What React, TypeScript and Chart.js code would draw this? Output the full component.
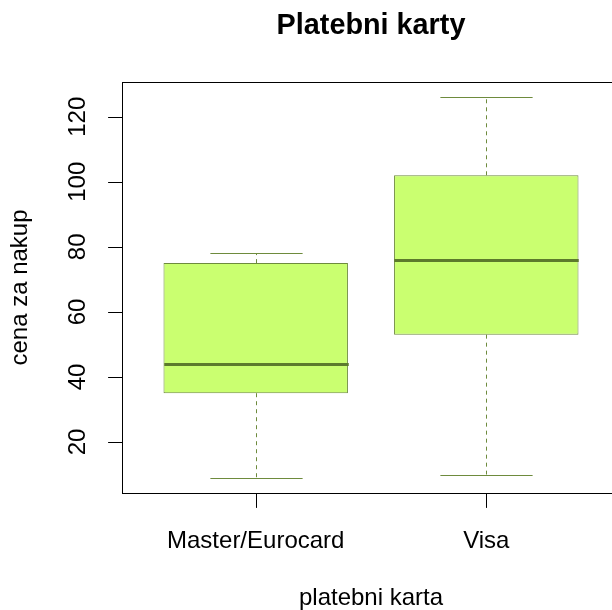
import React, { useEffect, useRef } from "react";
import { Chart, registerables } from "chart.js";

Chart.register(...registerables);

const categories = ["Master/Eurocard", "Visa"];
const positions = [1, 2];
const whiskerLow = [9, 10];
const q1 = [35, 53];
const median = [44, 76];
const q3 = [75, 102];
const whiskerHigh = [78, 126];
const yTicks = [20, 40, 60, 80, 100, 120];

const title = "Platebni karty";
const xTitle = "platebni karta";
const yTitle = "cena za nakup";

const FILL = "#CAFF70";
const BORDER = "#6E8B3D";
const MEDIAN = "#5C7A2C";
const FONT = "'Liberation Sans', Arial, Helvetica, sans-serif";

const W = 620;
const H = 610;

export default function App() {
  const ref = useRef<HTMLCanvasElement | null>(null);

  useEffect(() => {
    if (!ref.current) return;
    const boxPlugin = {
      id: "boxExtras",
      afterDatasetsDraw(chart: any) {
        const ctx = chart.ctx;
        const xs = chart.scales.x;
        const ys = chart.scales.y;
        const unit = xs.getPixelForValue(2) - xs.getPixelForValue(1);
        const boxHalf = unit * 0.4;
        const capHalf = boxHalf / 2;
        ctx.save();
        for (let i = 0; i < categories.length; i++) {
          const cx = Math.round(xs.getPixelForValue(positions[i])) + 0.5;
          ctx.strokeStyle = BORDER;
          ctx.lineWidth = 1;
          ctx.setLineDash([4, 4]);
          ctx.beginPath();
          ctx.moveTo(cx, ys.getPixelForValue(q3[i]));
          ctx.lineTo(cx, ys.getPixelForValue(whiskerHigh[i]));
          ctx.moveTo(cx, ys.getPixelForValue(q1[i]));
          ctx.lineTo(cx, ys.getPixelForValue(whiskerLow[i]));
          ctx.stroke();
          ctx.setLineDash([]);
          ctx.beginPath();
          const yh = Math.round(ys.getPixelForValue(whiskerHigh[i])) + 0.5;
          const yl = Math.round(ys.getPixelForValue(whiskerLow[i])) + 0.5;
          ctx.moveTo(cx - capHalf, yh);
          ctx.lineTo(cx + capHalf, yh);
          ctx.moveTo(cx - capHalf, yl);
          ctx.lineTo(cx + capHalf, yl);
          ctx.stroke();
          ctx.strokeStyle = MEDIAN;
          ctx.lineWidth = 3;
          ctx.lineCap = "butt";
          const ym = Math.round(ys.getPixelForValue(median[i])) + 0.5;
          ctx.beginPath();
          ctx.moveTo(cx - boxHalf, ym);
          ctx.lineTo(cx + boxHalf, ym);
          ctx.stroke();
        }
        ctx.restore();
      },
      afterDraw(chart: any) {
        const ctx = chart.ctx;
        const xs = chart.scales.x;
        const ys = chart.scales.y;
        const area = chart.chartArea;
        const tick = 14.4;
        ctx.save();
        ctx.strokeStyle = "#000";
        ctx.lineWidth = 1;
        ctx.strokeRect(
          Math.round(area.left) + 0.5,
          Math.round(area.top) + 0.5,
          Math.round(area.right - area.left) - 1,
          Math.round(area.bottom - area.top)
        );
        const axX = Math.round(area.left) + 0.5;
        ctx.beginPath();
        ctx.moveTo(axX, ys.getPixelForValue(yTicks[0]));
        ctx.lineTo(axX, ys.getPixelForValue(yTicks[yTicks.length - 1]));
        for (const t of yTicks) {
          const py = Math.round(ys.getPixelForValue(t)) + 0.5;
          ctx.moveTo(axX, py);
          ctx.lineTo(axX - tick, py);
        }
        const axY = Math.round(area.bottom) + 0.5;
        for (const p of positions) {
          const px = Math.round(xs.getPixelForValue(p)) + 0.5;
          ctx.moveTo(px, axY);
          ctx.lineTo(px, axY + tick);
        }
        ctx.stroke();

        ctx.fillStyle = "#000";
        ctx.font = `24px ${FONT}`;
        ctx.textAlign = "center";
        ctx.textBaseline = "alphabetic";
        for (const t of yTicks) {
          ctx.save();
          ctx.translate(area.left - 37, ys.getPixelForValue(t));
          ctx.rotate(-Math.PI / 2);
          ctx.fillText(String(t), 0, 0);
          ctx.restore();
        }
        for (let i = 0; i < categories.length; i++) {
          ctx.fillText(categories[i], xs.getPixelForValue(positions[i]), area.bottom + 55);
        }
        const cxPlot = (area.left + area.right) / 2;
        ctx.fillText(xTitle, cxPlot, area.bottom + 112);
        ctx.save();
        ctx.translate(area.left - 95, (area.top + area.bottom) / 2);
        ctx.rotate(-Math.PI / 2);
        ctx.fillText(yTitle, 0, 0);
        ctx.restore();
        ctx.font = `bold 28.8px ${FONT}`;
        ctx.fillText(title, cxPlot, 34);
        ctx.restore();
      },
    };

    const chart = new Chart(ref.current, {
      type: "bar",
      data: {
        datasets: [
          {
            data: positions.map((p, i) => ({ x: p, y: [q1[i], q3[i]] })) as any,
            backgroundColor: FILL,
            borderColor: BORDER,
            borderWidth: 1,
            borderSkipped: false,
            barPercentage: 0.8,
            categoryPercentage: 1,
          },
        ],
      },
      options: {
        responsive: false,
        animation: false,
        devicePixelRatio: 1,
        layout: { padding: { left: 122, top: 82, right: 0, bottom: 117 } },
        plugins: {
          legend: { display: false },
          tooltip: { enabled: false },
          title: { display: false },
        },
        scales: {
          x: {
            type: "linear",
            min: 0.42,
            max: 2.58,
            offset: false,
            display: false,
            ticks: { stepSize: 1, includeBounds: false },
          },
          y: { type: "linear", min: 4.32, max: 130.68, display: false },
        },
      },
      plugins: [boxPlugin],
    });
    return () => chart.destroy();
  }, []);

  return (
    <div
      style={{
        position: "fixed",
        left: 0,
        top: 0,
        width: 612,
        height: 610,
        overflow: "hidden",
        background: "#fff",
      }}
    >
      <canvas ref={ref} width={W} height={H} style={{ width: W, height: H, display: "block" }} />
    </div>
  );
}
